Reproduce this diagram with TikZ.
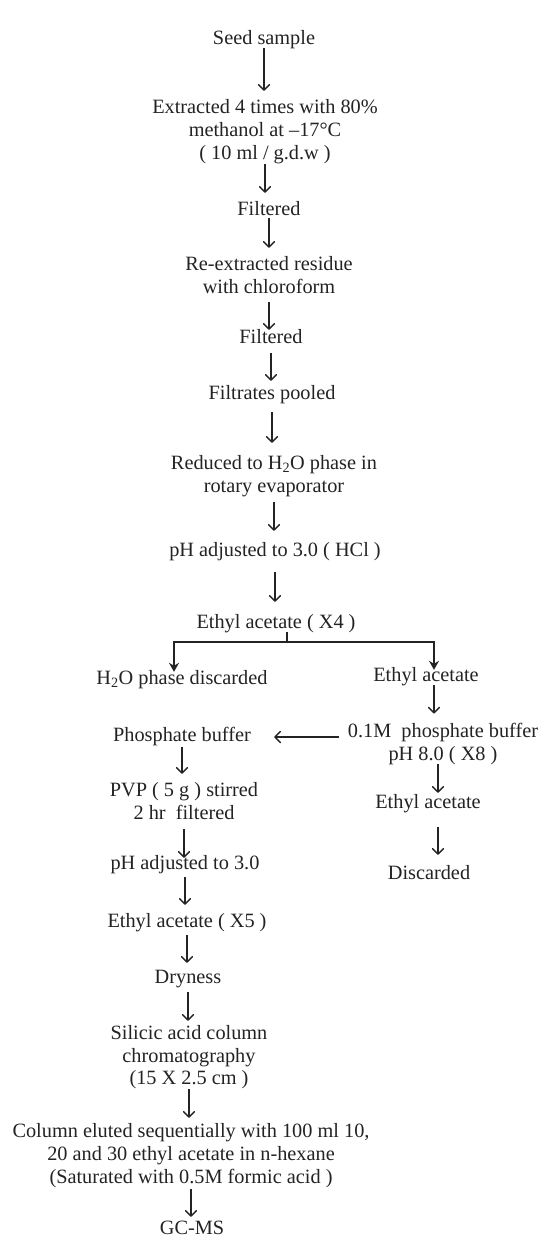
\documentclass[tikz,border=0pt]{standalone}
\usepackage{fontspec}
\setmainfont{Liberation Serif}
\usetikzlibrary{arrows.meta}
\definecolor{ink}{RGB}{35,35,35}
\begin{document}
\begin{tikzpicture}[x=1pt,y={(0,-1pt)},
  lbl/.style={inner sep=0pt, align=center, text=ink,
    font=\fontsize{20.3}{22.8}\selectfont,
    execute at begin node=\strut, execute at end node=\strut},
  arr/.style={draw=ink, line width=1.3pt,
    -{Straight Barb[length=5.5pt,width=11pt,line width=1.4pt,round]}},
  barr/.style={draw=ink, line width=1.3pt,
    -{Stealth[length=9pt,width=10pt,inset=3pt]}},
  plain/.style={draw=ink, line width=1.3pt}]
\useasboundingbox[fill=white] (0,0) rectangle (541,1240);
% main column
\node[lbl] (seed) at (264,40) {Seed sample};
\node[lbl] (ext) at (265,133) {Extracted 4 times with 80\%\\methanol at –17°C\\( 10 ml / g.d.w )};
\node[lbl] (filt1) at (269,211) {Filtered};
\node[lbl] (reex) at (269,278) {Re-extracted residue\\with chloroform};
\node[lbl] (filt2) at (271,339) {Filtered};
\node[lbl] (pool) at (272,395) {Filtrates pooled};
\node[lbl] (red) at (274,477) {Reduced to H\textsubscript{2}O phase in\\rotary evaporator};
\node[lbl] (ph1) at (275,552) {pH adjusted to 3.0 ( HCl )};
\node[lbl] (x4) at (276,624) {Ethyl acetate ( X4 )};
% branches
\node[lbl] (h2o) at (182,680) {H\textsubscript{2}O phase discarded};
\node[lbl] (ea1) at (426,677) {Ethyl acetate};
\node[lbl] (buf) at (443,745) {0.1M\ \ phosphate buffer\\pH 8.0 ( X8 )};
\node[lbl] (ea2) at (428,804) {Ethyl acetate};
\node[lbl] (disc) at (429,875) {Discarded};
\node[lbl] (phos) at (182,737) {Phosphate buffer};
\node[lbl] (pvp) at (184,804) {PVP ( 5 g ) stirred\\2 hr\ \ filtered};
\node[lbl] (ph2) at (185,865) {pH adjusted to 3.0};
\node[lbl] (x5) at (187,923) {Ethyl acetate ( X5 )};
\node[lbl] (dry) at (188,979) {Dryness};
\node[lbl] (sil) at (189,1058.5) {Silicic acid column\\chromatography\\(15 X 2.5 cm )};
\node[lbl] (col) at (191,1157) {Column eluted sequentially with 100 ml 10,\\20 and 30 ethyl acetate in n-hexane\\(Saturated with 0.5M formic acid )};
\node[lbl] (gc) at (192,1230) {GC-MS};
\coordinate (split) at (287,642);
\coordinate (lc) at (174,642);
\coordinate (rc) at (434,642);
\coordinate (rc2) at (438,642);
% connectors main column
\draw[arr, shorten <=-3.4pt, shorten >=8.8pt] (seed.south) -- (seed.south |- ext.north);
\draw[arr, shorten <=-2.2pt, shorten >=6.6pt] (ext.south) -- (ext.south |- filt1.north);
\draw[arr, shorten <=-4.4pt, shorten >=8.2pt] (filt1.south) -- (filt1.south |- reex.north);
\draw[arr, shorten <=2.2pt, shorten >=-2.4pt] (reex.south) -- (reex.south |- filt2.north);
\draw[arr, shorten <=2.6pt, shorten >=2.6pt] (filt2.south) -- (filt2.south |- pool.north);
\draw[arr, shorten <=5.6pt, shorten >=12.2pt] (pool.south) -- (pool.south |- red.north);
\draw[arr, shorten <=3.2pt, shorten >=9.6pt] (red.south) -- (red.south |- ph1.north);
\draw[arr, shorten <=8.6pt, shorten >=10.6pt] (ph1.south) -- (ph1.south |- x4.north);
% split
\draw[plain, shorten <=-3.4pt] (x4.south -| split) -- (split);
\draw[barr, shorten >=-3.4pt] (split) -- (lc) -- (lc |- h2o.north);
\draw[barr, shorten >=-4.4pt] (split) -- (rc) -- (rc |- ea1.north);
% right column
\draw[arr, shorten <=-3.4pt, shorten >=9.2pt] (ea1.south -| rc) -- (rc |- buf.north);
\draw[arr, shorten <=-2.8pt, shorten >=-0.4pt] (buf.south -| rc2) -- (rc2 |- ea2.north);
\draw[arr, shorten <=11.6pt, shorten >=8.6pt] (ea2.south -| rc2) -- (rc2 |- disc.north);
\draw[arr, shorten <=9pt, shorten >=23pt] (buf.west |- phos) -- (phos.east);
% left column
\draw[arr, shorten <=-1.4pt, shorten >=8.2pt] (phos.south) -- (phos.south |- pvp.north);
\draw[arr, shorten <=3.2pt, shorten >=-4.4pt] (pvp.south) -- (pvp.south |- ph2.north);
\draw[arr, shorten <=0.6pt, shorten >=6.6pt] (ph2.south) -- (ph2.south |- x5.north);
\draw[arr, shorten <=0.6pt, shorten >=4.6pt] (x5.south) -- (x5.south |- dry.north);
\draw[arr, shorten <=1.6pt, shorten >=4.3pt] (dry.south) -- (dry.south |- sil.north);
\draw[arr, shorten <=-2.7pt, shorten >=5.8pt] (sil.south) -- (sil.south |- col.north);
\draw[arr, shorten <=-1.2pt, shorten >=1.6pt] (col.south) -- (col.south |- gc.north);
\end{tikzpicture}
\end{document}
